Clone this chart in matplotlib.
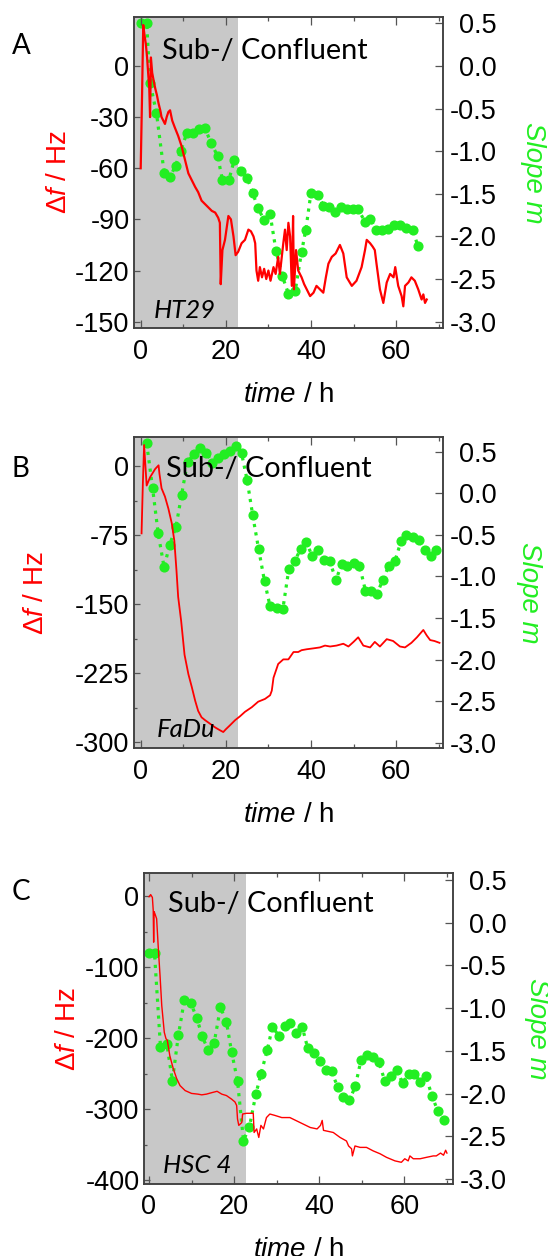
import numpy as np
import matplotlib
matplotlib.use("Agg")
import matplotlib.pyplot as plt
from matplotlib.ticker import MultipleLocator, FormatStrFormatter

plt.rcParams['font.family'] = ['Liberation Sans', 'DejaVu Sans']
plt.rcParams['axes.unicode_minus'] = False
plt.rcParams['mathtext.fontset'] = 'custom'
plt.rcParams['mathtext.rm'] = 'Liberation Sans'
plt.rcParams['mathtext.it'] = 'Liberation Sans:italic'
plt.rcParams['xtick.labelsize'] = 19.5
plt.rcParams['ytick.labelsize'] = 19.5

# ---- Panel A : HT29 ----
time_a = [0, 0.3, 0.6, 0.9, 1.2, 1.5, 1.8, 2.0, 2.2, 2.4,
          2.7, 3.0, 3.4, 3.8, 4.2, 4.6, 4.9, 5.3, 5.7, 6.1,
          6.5, 6.9, 7.4, 8.0, 8.8, 9.6, 10.4, 11.2, 12.0, 12.8,
          13.5, 14.3, 15.1, 15.9, 16.7, 17.5, 18.2, 18.6, 18.8, 19.2,
          19.8, 20.6, 21.2, 21.8, 22.3, 22.9, 23.7, 24.5, 25.3, 25.9,
          26.5, 26.9, 27.2, 27.6, 28.0, 28.5, 29.0, 29.5, 30.0, 30.5,
          31.2, 31.7, 32.3, 32.7, 33.5, 33.9, 34.3, 34.7, 35.1, 35.5,
          35.8, 36.0, 36.5, 37.0, 37.8, 38.4, 39.0, 39.8, 40.6, 41.3,
          42.1, 42.9, 43.5, 44.1, 44.9, 45.8, 46.8, 47.6, 48.4, 49.6,
          50.7, 51.9, 52.7, 53.1, 53.9, 54.5, 55.0, 55.4, 56.2, 57.0,
          57.8, 58.6, 59.4, 59.8, 60.5, 61.3, 61.7, 62.1, 62.9, 63.6,
          64.4, 65.2, 66.0, 66.4, 66.8, 67.2]
df_a = [-60, -20, 24, 18, 13, 5, -6, -12, -30, 5,
        -4, -8, -13, -17, -22, -26, -30, -32, -34, -30,
        -27, -26, -32, -36, -41, -47, -55, -63, -67, -71,
        -74, -79, -81, -83, -85, -86, -89, -92, -128, -108,
        -102, -88, -90, -100, -111, -109, -104, -102, -96, -97,
        -100, -104, -120, -126, -118, -124, -119, -125, -120, -126,
        -118, -122, -112, -122, -104, -96, -108, -92, -100, -129,
        -88, -131, -108, -120, -124, -128, -131, -135, -133, -129,
        -131, -133, -124, -116, -112, -110, -105, -110, -124, -129,
        -126, -118, -108, -102, -104, -106, -108, -116, -131, -139,
        -127, -122, -124, -118, -129, -135, -141, -129, -127, -124,
        -126, -131, -137, -134, -139, -137]
slope_t_a = [0, 1.4, 2.2, 3.7, 5.5, 6.9, 8.2, 9.4, 10.8, 12.4,
             13.7, 15.1, 16.5, 18.1, 19.2, 20.7, 22.0, 23.5, 25.0, 26.3,
             27.6, 29.0, 30.4, 31.8, 33.3, 34.7, 36.3, 37.8, 38.8, 40.0,
             41.7, 42.9, 44.3, 45.6, 47.1, 48.4, 49.8, 51.1, 52.7, 53.9,
             55.3, 56.8, 58.2, 59.5, 60.9, 62.3, 63.9, 65.1]
slope_a = [0.5, 0.5, -0.2, -0.55, -1.25, -1.30, -1.17, -1.0, -0.79, -0.79,
           -0.74, -0.73, -0.90, -1.06, -1.34, -1.34, -1.10, -1.23, -1.31, -1.49,
           -1.67, -1.81, -1.74, -2.17, -2.47, -2.67, -2.64, -2.18, -1.92, -1.49,
           -1.51, -1.64, -1.65, -1.71, -1.65, -1.68, -1.68, -1.68, -1.83, -1.79,
           -1.92, -1.92, -1.91, -1.86, -1.86, -1.90, -1.92, -2.11]

# ---- Panel B : FaDu ----
time_b = [0.2, 0.5, 0.8, 1.4, 2.2, 3.4, 4.2, 4.4, 4.9, 5.7,
          6.5, 7.3, 7.9, 8.4, 8.8, 9.5, 10.3, 11.2, 12.0, 12.8,
          13.5, 14.3, 15.1, 16.3, 17.5, 18.6, 19.4, 20.0, 20.9, 22.2,
          23.3, 24.5, 26.1, 27.6, 29.2, 30.4, 30.8, 31.2, 32.3, 33.5,
          34.7, 35.9, 37.0, 37.8, 39.0, 40.6, 42.1, 43.3, 44.5, 46.0,
          47.6, 48.8, 50.0, 51.1, 52.3, 53.9, 55.0, 56.2, 57.8, 59.3,
          60.9, 62.1, 63.6, 64.9, 66.4, 67.2, 68.0, 69.0, 70.2]
df_b = [-73, -20, 23, -21, -12, -3, 1, -8, -24, -33,
        -46, -62, -81, -113, -142, -168, -205, -226, -240, -255,
        -266, -273, -276, -280, -284, -287, -289, -286, -282, -276,
        -272, -267, -262, -256, -253, -249, -244, -230, -215, -210,
        -210, -202, -202, -200, -199, -198, -197, -195, -196, -195,
        -193, -196, -191, -186, -195, -197, -191, -196, -188, -190,
        -196, -197, -192, -186, -178, -184, -189, -190, -192]
slope_t_b = [1.4, 2.8, 4.1, 5.5, 6.8, 8.3, 9.6, 11.0, 12.5, 14.0,
             15.4, 16.8, 18.2, 19.5, 20.9, 22.3, 23.7, 25.0, 26.3, 27.7,
             29.1, 30.4, 32.0, 33.4, 34.8, 36.2, 37.6, 38.9, 40.3, 41.7,
             43.0, 44.4, 45.9, 47.2, 48.5, 50.0, 51.4, 52.8, 54.2, 55.5,
             56.9, 58.3, 59.7, 61.2, 62.4, 63.9, 65.3, 66.8, 68.2, 69.4]
slope_b = [0.6, 0.06, -0.48, -0.89, -0.62, -0.40, -0.02, 0.38, 0.47, 0.54,
           0.49, 0.37, 0.42, 0.47, 0.51, 0.57, 0.48, 0.16, -0.26, -0.67,
           -1.06, -1.36, -1.38, -1.39, -0.91, -0.81, -0.67, -0.58, -0.76, -0.68,
           -0.80, -0.82, -1.04, -0.85, -0.88, -0.84, -0.87, -1.17, -1.18, -1.21,
           -1.04, -0.87, -0.82, -0.57, -0.50, -0.52, -0.56, -0.68, -0.76, -0.68]

# ---- Panel C : HSC 4 ----
time_c = [0, 0.4, 0.8, 1.0, 1.1, 1.2, 1.4, 1.8, 2.2, 2.6,
          3.0, 3.6, 4.0, 4.3, 4.9, 5.7, 6.5, 7.3, 8.5, 10.0,
          11.5, 12.4, 13.5, 14.7, 16.0, 17.1, 18.2, 19.4, 20.2, 20.6,
          20.8, 21.1, 21.8, 22.0, 22.9, 24.5, 24.7, 25.3, 25.8, 26.3,
          26.9, 27.6, 28.4, 29.6, 31.2, 33.1, 35.5, 37.9, 39.5, 40.3,
          40.7, 41.0, 43.3, 44.9, 46.4, 46.9, 47.6, 47.8, 48.4, 49.6,
          51.1, 52.7, 54.3, 55.8, 57.8, 59.3, 60.1, 60.9, 61.3, 62.1,
          63.7, 65.2, 66.8, 67.5, 68.5, 69.2, 69.7, 70.0]
df_c = [-1, 2, -2, -20, -65, -22, -25, -32, -74, -112,
        -154, -192, -201, -203, -225, -243, -257, -267, -274, -278,
        -279, -280, -279, -277, -275, -279, -281, -286, -290, -295,
        -314, -323, -319, -307, -306, -306, -333, -328, -340, -323,
        -328, -312, -307, -309, -312, -312, -319, -326, -328, -323,
        -316, -330, -333, -340, -345, -352, -356, -366, -352, -354,
        -354, -359, -363, -368, -373, -375, -370, -373, -366, -370,
        -370, -368, -366, -366, -362, -365, -358, -362]
slope_t_c = [0, 1.3, 2.7, 4.2, 5.5, 6.9, 8.3, 9.8, 11.2, 12.5,
             13.9, 15.3, 16.8, 18.2, 19.4, 20.8, 22.2, 23.6, 25.1, 26.3,
             27.8, 29.0, 30.6, 31.9, 33.1, 34.5, 36.0, 37.3, 38.8, 40.2,
             41.6, 42.9, 44.3, 45.7, 47.1, 48.5, 49.8, 51.3, 52.7, 54.0,
             55.4, 56.8, 58.2, 59.6, 61.0, 62.3, 63.7, 65.1, 66.5, 67.9,
             69.4]
slope_c = [-0.36, -0.36, -1.45, -1.42, -1.85, -1.32, -0.91, -0.94, -1.11, -1.33,
           -1.49, -1.41, -0.99, -1.16, -1.51, -1.85, -2.55, -2.39, -2.01, -1.77,
           -1.49, -1.22, -1.33, -1.21, -1.18, -1.29, -1.22, -1.47, -1.52, -1.62,
           -1.72, -1.74, -1.92, -2.04, -2.08, -1.91, -1.61, -1.55, -1.57, -1.63,
           -1.85, -1.80, -1.72, -1.88, -1.77, -1.77, -1.86, -1.80, -2.03, -2.21,
           -2.31]

confluent_end = 22.9
RED = '#ff0000'
GREEN = '#22ee22'
GREY = '#c8c8c8'
SPINE = '#404040'
TEXT_FONT = ['Lato', 'DejaVu Sans']
TICK_FS = 19.5

fig = plt.figure(figsize=(5.48, 12.56), dpi=100)


def panel(rect, t, df, ts, sl, xlim, ylim, yl2, ystep, yminor, cell, letter,
          letter_xy, ylab_x, slope_x, sub_xy, cell_xy, lw):
    ax = fig.add_axes(rect)
    ax2 = ax.twinx()
    # red trace on top of the green slope points
    ax.set_zorder(2)
    ax2.set_zorder(1)
    ax.patch.set_visible(False)

    # grey region (sub-/confluent phase)
    ax2.axvspan(xlim[0], confluent_end, color=GREY, lw=0, zorder=0)
    ax2.plot(ts, sl, ':', color=GREEN, lw=2.3, marker='o', ms=6.3,
             mec=GREEN, mfc=GREEN, zorder=2)
    ax.plot(t, df, '-', color=RED, lw=lw, zorder=3)

    ax.set_xlim(*xlim)
    ax.set_ylim(*ylim)
    ax2.set_ylim(*yl2)

    ax.xaxis.set_major_locator(MultipleLocator(20))
    ax.xaxis.set_minor_locator(MultipleLocator(10))
    ax.yaxis.set_major_locator(MultipleLocator(ystep))
    if yminor:
        ax.yaxis.set_minor_locator(MultipleLocator(yminor))
    ax.yaxis.set_major_formatter(FormatStrFormatter('%d'))
    ax2.set_yticks(np.arange(-3.0, 0.51, 0.5))
    ax2.yaxis.set_major_formatter(FormatStrFormatter('%.1f'))

    for a in (ax, ax2):
        for s in a.spines.values():
            s.set_color(SPINE)
            s.set_linewidth(1.1)
    ax.tick_params(axis='both', which='both', direction='in', top=True,
                   color='#555555', width=0.9, labelsize=TICK_FS)
    ax.tick_params(axis='x', which='major', length=5.8, pad=7.5)
    ax.tick_params(axis='x', which='minor', length=2.9)
    ax.tick_params(axis='y', which='major', length=4.5, pad=3.5)
    ax.tick_params(axis='y', which='minor', length=2.5)
    # right labels are right-aligned in the original
    ax2.tick_params(axis='y', direction='in', color='#555555', width=0.9,
                    length=5.8, labelsize=TICK_FS, pad=38.5)
    for lab in ax2.get_yticklabels():
        lab.set_horizontalalignment('right')

    ax.set_xlabel(r'$\mathit{time}$ / h', fontsize=20)
    ax.xaxis.set_label_coords(0.5, -0.172)

    fig_h = 1256.0
    fig_w = 548.0
    cy = rect[1] + rect[3] / 2
    fig.text(ylab_x / fig_w, cy, r'$\mathit{\Delta f}$ / Hz', color=RED,
             fontsize=20, rotation=90, ha='center', va='center')
    fig.text(slope_x / fig_w, cy, 'Slope m', color=GREEN, fontsize=20,
             style='italic', rotation=-90, ha='center', va='center')
    fig.text(letter_xy[0] / fig_w, 1 - letter_xy[1] / fig_h, letter,
             fontsize=20, family=TEXT_FONT, ha='left', va='baseline')

    ax.text(sub_xy[0], sub_xy[1], 'Sub-/ Confluent', transform=ax.transAxes,
            fontsize=20.8, family=TEXT_FONT, ha='left', va='baseline', zorder=5)
    ax.text(cell_xy[0], cell_xy[1], cell, transform=ax.transAxes,
            fontsize=18.5, family=TEXT_FONT, style='italic', ha='left',
            va='baseline', zorder=5)
    return ax, ax2


panel([0.2451, 0.7386, 0.5639, 0.2481], time_a, df_a, slope_t_a, slope_a,
      (-1.5, 71.1), (-153.9, 28.9), (-3.078, 0.578), 30, None, 'HT29', 'A',
      (12, 54), 59, 533, (0.091, 0.863), (0.062, 0.032), 1.6)

panel([0.2451, 0.4042, 0.5639, 0.2476], time_b, df_b, slope_t_b, slope_b,
      (-1.5, 71.1), (-306.7, 31.4), (-3.067, 0.673), 75, 37.5, 'FaDu', 'B',
      (12, 477), 36, 529, (0.102, 0.874), (0.073, 0.037), 1.3)

panel([0.2633, 0.0573, 0.5639, 0.2474], time_c, df_c, slope_t_c, slope_c,
      (-1.1, 71.5), (-405.6, 32.0), (-3.059, 0.578), 100, 50, 'HSC 4', 'C',
      (12, 900), 68, 537, (0.078, 0.876), (0.062, 0.034), 1.0)

fig.savefig('out.png', dpi=100)
